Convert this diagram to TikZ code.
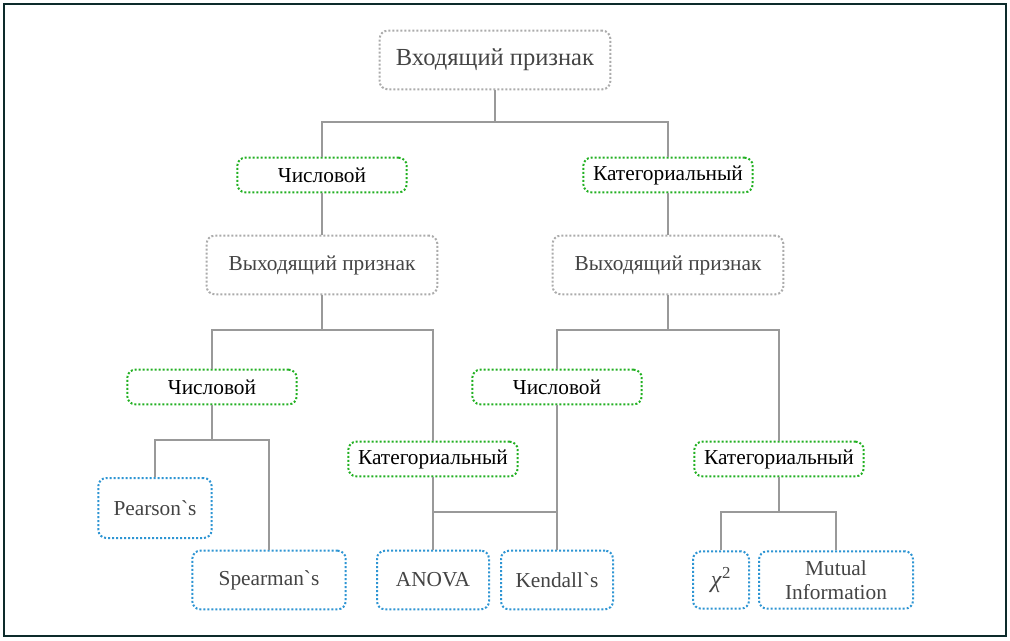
\documentclass[tikz,border=0pt]{standalone}
\usepackage{fontspec}
\setmainfont{Liberation Serif}[Ligatures=TeXOff]
\usepackage{xcolor}
\usetikzlibrary{positioning}

\definecolor{framecol}{HTML}{0D2B2B}
\definecolor{featgray}{HTML}{ABABAB}
\definecolor{textgray}{HTML}{444444}
\definecolor{typegreen}{HTML}{22B022}
\definecolor{methblue}{HTML}{2E95D3}
\definecolor{linkgray}{HTML}{999999}

\begin{document}
\begin{tikzpicture}[
    x=0.75pt, y=-0.75pt,
    font=\fontsize{16}{18}\selectfont,
    base/.style={rectangle, rounded corners=6pt, dash pattern=on 1.5pt off 1.5pt, line width=1.5pt, fill=white, align=center, inner sep=0pt},
    featbox/.style={base, draw=featgray, text=textgray, minimum width=173pt, minimum height=44pt},
    typebox/.style={base, draw=typegreen, text=black, minimum width=127pt, minimum height=26pt},
    methbox/.style={base, draw=methblue, text=textgray, minimum height=44pt},
    link/.style={draw=linkgray, line width=1.5pt}
]
\useasboundingbox (0,0) rectangle (1010,640);
\draw[framecol, line width=1.5pt] (4,4) rectangle (1006,636);

% Input feature
\node[featbox, font=\fontsize{18.4}{20}\selectfont] (in) at (495,60) {Входящий признак};

% Input type
\node[typebox] (num1) at (322,175) {Числовой};
\node[typebox] (cat1) at (668,175) {Категориальный};

% Output feature
\node[featbox] (out1) at (322,265) {Выходящий признак};
\node[featbox] (out2) at (668,265) {Выходящий признак};

% Output type
\node[typebox] (num2) at (212,387) {Числовой};
\node[typebox] (cat2) at (433,459) {Категориальный};
\node[typebox] (num3) at (557,387) {Числовой};
\node[typebox] (cat3) at (779,459) {Категориальный};

% Methods
\node[methbox, minimum width=85pt, minimum height=45pt] (pear) at (155,508) {Pearson`s};
\node[methbox, minimum width=115pt] (spear) at (269,580) {Spearman`s};
\node[methbox, minimum width=84pt] (anova) at (433,580) {ANOVA};
\node[methbox, minimum width=84pt] (kend) at (557,580) {Kendall`s};
\node[methbox, minimum width=42pt, minimum height=43pt, font=\fontsize{18}{20}\selectfont] (chi) at (721,580) {\textit{χ}\textsuperscript{2}};
\node[methbox, minimum width=115.5pt, minimum height=43pt] (mi) at (836,580) {Mutual\\Information};

% Junctions
\coordinate (j0) at (495,122);
\coordinate (j1) at (322,330);
\coordinate (j2) at (668,330);
\coordinate (j3) at (212,440);
\coordinate (j4) at (433,512);
\coordinate (j5) at (779,512);

% Connections
\draw[link] (in) -- (j0);
\draw[link] (num1) |- (j0) -| (cat1);
\draw[link] (num1) -- (out1);
\draw[link] (cat1) -- (out2);

\draw[link] (out1) -- (j1);
\draw[link] (num2) |- (j1) -| (cat2);
\draw[link] (out2) -- (j2);
\draw[link] (num3) |- (j2) -| (cat3);

\draw[link] (num2) -- (j3);
\draw[link] (pear) |- (j3) -| (spear);
\draw[link] (cat2) -- (j4);
\draw[link] (anova) |- (j4) -| (kend);
\draw[link] (num3) -- (kend);
\draw[link] (cat3) -- (j5);
\draw[link] (chi) |- (j5) -| (mi);

\end{tikzpicture}
\end{document}
